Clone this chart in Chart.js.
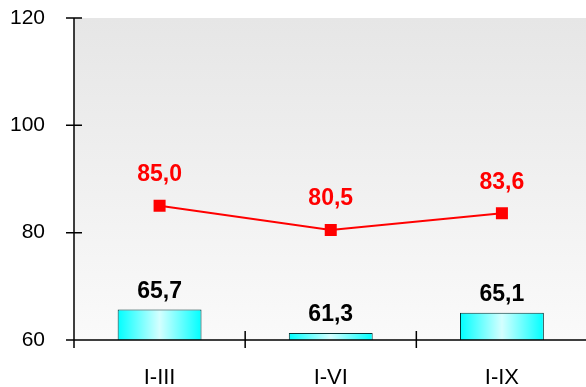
<!DOCTYPE html>
<html>
<head>
<meta charset="utf-8">
<script src="https://cdn.jsdelivr.net/npm/chart.js@4"></script>
<style>
  html, body { margin: 0; padding: 0; background: #fff; overflow: hidden; }
  #wrap { width: 586px; height: 387px; overflow: hidden; }
</style>
</head>
<body>
<div id="wrap"><canvas id="chart" width="596" height="387"></canvas></div>
<script>
const periods = ['I-III', 'I-VI', 'I-IX'];
const barValues = [65.7, 61.3, 65.1];
const lineValues = [85.0, 80.5, 83.6];
const yTicks = [60, 80, 100, 120];

const ctx = document.getElementById('chart').getContext('2d');
const fmt = v => v.toFixed(1).replace('.', ',');
const FONT = '"Liberation Sans", Arial, sans-serif';

function barFill(context) {
    const chart = context.chart;
    const area = chart.chartArea;
    if (!area) return '#33ffff';
    const x = chart.scales.x.getPixelForValue(context.dataIndex);
    const w = (area.right - area.left) / periods.length * 0.49;
    const g = chart.ctx.createLinearGradient(x - w / 2, 0, x + w / 2, 0);
    g.addColorStop(0, '#00ffff');
    g.addColorStop(0.5, '#d4ffff');
    g.addColorStop(1, '#00ffff');
    return g;
}

const decorations = {
    id: 'decorations',
    beforeDraw(chart) {
        const a = chart.chartArea;
        const c = chart.ctx;
        const g = c.createLinearGradient(0, a.top, 0, a.bottom);
        g.addColorStop(0, '#e6e6e6');
        g.addColorStop(1, '#fafafa');
        c.save();
        c.fillStyle = g;
        c.fillRect(a.left, a.top, a.right - a.left, a.bottom - a.top);
        c.restore();
    },
    afterDatasetsDraw(chart) {
        const a = chart.chartArea;
        const c = chart.ctx;
        const xs = chart.scales.x;
        const ys = chart.scales.y;
        c.save();
        c.strokeStyle = '#000';
        c.lineWidth = 1.5;
        c.beginPath();
        // y axis
        c.moveTo(a.left, a.top);
        c.lineTo(a.left, a.bottom + 8);
        yTicks.forEach(t => {
            const y = ys.getPixelForValue(t);
            c.moveTo(a.left - 8, y);
            c.lineTo(a.left + 8, y);
        });
        // x axis
        c.moveTo(a.left, a.bottom);
        c.lineTo(a.right, a.bottom);
        for (let i = 1; i <= periods.length; i++) {
            const x = (xs.getPixelForValue(i - 1) + xs.getPixelForValue(i)) / 2;
            c.moveTo(x, a.bottom - 9);
            c.lineTo(x, a.bottom + 8);
        }
        c.stroke();

        // value labels
        c.textAlign = 'center';
        c.textBaseline = 'middle';
        c.font = 'bold 23px ' + FONT;
        chart.getDatasetMeta(0).data.forEach((el, i) => {
            c.fillStyle = '#000';
            c.fillText(fmt(barValues[i]), el.x, el.y - 18);
        });
        chart.getDatasetMeta(1).data.forEach((el, i) => {
            c.fillStyle = '#ff0000';
            c.fillText(fmt(lineValues[i]), el.x, el.y - 31);
        });
        c.restore();
    }
};

new Chart(ctx, {
    data: {
        labels: periods,
        datasets: [{
            type: 'bar',
            data: barValues,
            backgroundColor: barFill,
            borderColor: '#003333',
            borderWidth: 1,
            categoryPercentage: 1,
            barPercentage: 0.49,
            order: 2
        }, {
            type: 'line',
            data: lineValues,
            borderColor: '#ff0000',
            backgroundColor: '#ff0000',
            borderWidth: 2,
            pointStyle: 'rect',
            pointRadius: 8.5,
            pointBorderWidth: 0,
            order: 1
        }]
    },
    options: {
        responsive: false,
        animation: false,
        layout: { padding: { top: 18, right: 0, left: 0, bottom: 0 } },
        plugins: { legend: { display: false }, tooltip: { enabled: false } },
        scales: {
            x: {
                grid: { display: false },
                border: { display: false },
                afterFit: s => { s.height = 47; s.paddingLeft = 0; s.paddingRight = 0; },
                ticks: {
                    color: '#000',
                    padding: 17,
                    font: { family: FONT, size: 22 }
                }
            },
            y: {
                min: 60,
                max: 120,
                grid: { display: false },
                border: { display: false },
                afterFit: s => { s.width = 74; s.paddingTop = 0; s.paddingBottom = 0; },
                afterBuildTicks: s => { s.ticks = yTicks.map(v => ({ value: v })); },
                ticks: {
                    color: '#000',
                    padding: 21,
                    font: { family: FONT, size: 21 }
                }
            }
        }
    },
    plugins: [decorations]
});
</script>
</body>
</html>
